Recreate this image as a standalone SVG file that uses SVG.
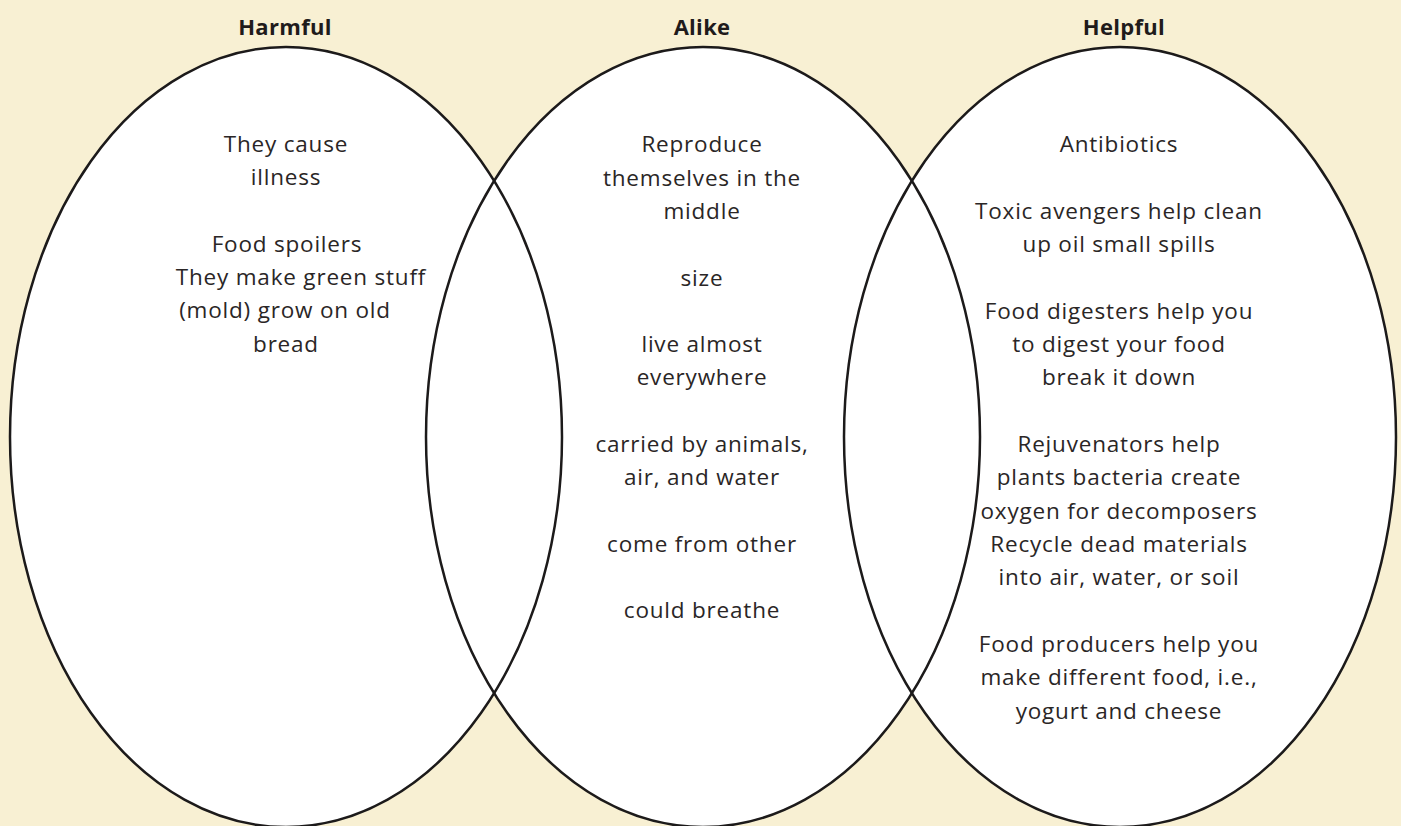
<svg xmlns="http://www.w3.org/2000/svg" width="1401" height="826" viewBox="0 0 1401 826">
<style>
.bg{fill:#f8f0d3}
.fill{fill:#ffffff;stroke:none}
.ring{fill:none;stroke:#1c1a1a;stroke-width:2.5}
.h{font-family:"Open Sans","Liberation Sans",sans-serif;font-weight:700;font-size:22px;fill:#1f1b1b;text-anchor:middle;letter-spacing:0.3px}
.t{font-family:"Open Sans","Liberation Sans",sans-serif;font-size:22.5px;letter-spacing:0.8px;fill:#2a2626;text-anchor:middle}
</style>
<rect class="bg" x="0" y="0" width="1401" height="826"/>
<g id="fills">
<ellipse class="fill" cx="286" cy="437" rx="276" ry="390"/>
<ellipse class="fill" cx="703" cy="437" rx="277" ry="390"/>
<ellipse class="fill" cx="1120" cy="437" rx="276" ry="390"/>
</g>
<g id="harmful">
<ellipse class="ring" cx="286" cy="437" rx="276" ry="390"/>
<text class="h" x="285" y="35">Harmful</text>
<text class="t" x="286" y="152">They cause</text>
<text class="t" x="286" y="185">illness</text>
<text class="t" x="287" y="252">Food spoilers</text>
<text class="t" x="301" y="285">They make green stuff</text>
<text class="t" x="285" y="318">(mold) grow on old</text>
<text class="t" x="286" y="352">bread</text>
</g>
<g id="alike">
<ellipse class="ring" cx="703" cy="437" rx="277" ry="390"/>
<text class="h" x="702" y="35">Alike</text>
<text class="t" x="702" y="152">Reproduce</text>
<text class="t" x="702" y="186">themselves in the</text>
<text class="t" x="702" y="219">middle</text>
<text class="t" x="702" y="286">size</text>
<text class="t" x="702" y="352">live almost</text>
<text class="t" x="702" y="385">everywhere</text>
<text class="t" x="702" y="452">carried by animals,</text>
<text class="t" x="702" y="485">air, and water</text>
<text class="t" x="702" y="552">come from other</text>
<text class="t" x="702" y="618">could breathe</text>
</g>
<g id="helpful">
<ellipse class="ring" cx="1120" cy="437" rx="276" ry="390"/>
<text class="h" x="1124" y="35">Helpful</text>
<text class="t" x="1119" y="152">Antibiotics</text>
<text class="t" x="1119" y="219">Toxic avengers help clean</text>
<text class="t" x="1119" y="252">up oil small spills</text>
<text class="t" x="1119" y="319">Food digesters help you</text>
<text class="t" x="1119" y="352">to digest your food</text>
<text class="t" x="1119" y="385">break it down</text>
<text class="t" x="1119" y="452">Rejuvenators help</text>
<text class="t" x="1119" y="485">plants bacteria create</text>
<text class="t" x="1119" y="519">oxygen for decomposers</text>
<text class="t" x="1119" y="552">Recycle dead materials</text>
<text class="t" x="1119" y="585">into air, water, or soil</text>
<text class="t" x="1119" y="652">Food producers help you</text>
<text class="t" x="1119" y="685">make different food, i.e.,</text>
<text class="t" x="1119" y="719">yogurt and cheese</text>
</g>
<g id="connectors"></g>
</svg>
